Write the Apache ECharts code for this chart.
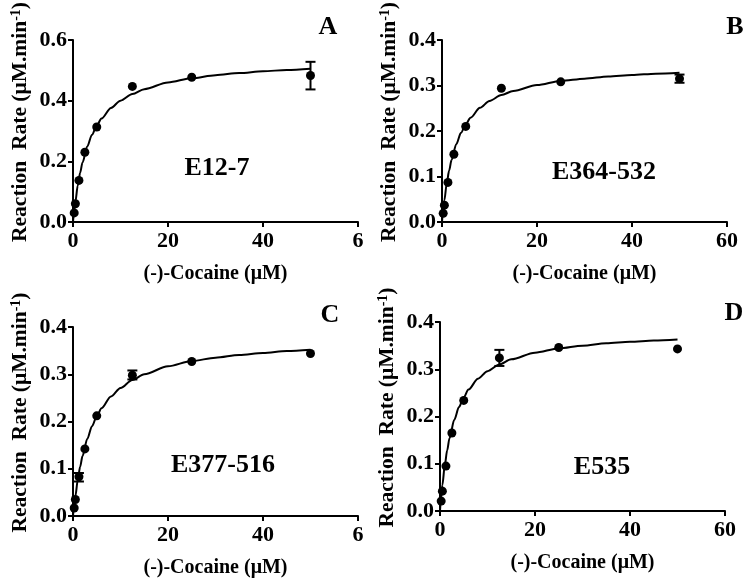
<!DOCTYPE html>
<html><head><meta charset="utf-8">
<script src="https://cdn.jsdelivr.net/npm/echarts@6/dist/echarts.min.js"></script>
<style>html,body{margin:0;padding:0;background:#fff}#c{width:754px;height:583px}</style>
</head><body><div id="c"></div>
<script>
// ---- data ----
const conc = [0.25, 0.5, 1.25, 2.5, 5, 12.5, 25, 50];
const rateA = [0.030, 0.060, 0.137, 0.230, 0.313, 0.447, 0.477, 0.483];
const rateB = [0.019, 0.037, 0.087, 0.149, 0.210, 0.294, 0.308, 0.315];
const rateC = [0.017, 0.035, 0.083, 0.142, 0.212, 0.298, 0.327, 0.344];
const rateD = [0.021, 0.042, 0.095, 0.165, 0.234, 0.324, 0.346, 0.343];
// fitted curves
const curveX = [0, 0.25, 0.5, 1, 1.5, 2, 3, 4, 5, 6, 8, 10, 12.5, 15, 20, 25, 30, 35, 40, 45, 50];
const curveA = [0, 0.036, 0.067, 0.120, 0.162, 0.196, 0.249, 0.288, 0.318, 0.341, 0.376, 0.400, 0.422, 0.438, 0.460, 0.474, 0.484, 0.491, 0.497, 0.501, 0.505];
const curveB = [0, 0.026, 0.048, 0.085, 0.113, 0.136, 0.171, 0.196, 0.215, 0.229, 0.251, 0.266, 0.279, 0.288, 0.301, 0.310, 0.315, 0.320, 0.323, 0.326, 0.328];
const curveC = [0, 0.022, 0.042, 0.076, 0.104, 0.127, 0.163, 0.190, 0.211, 0.228, 0.253, 0.271, 0.288, 0.300, 0.317, 0.328, 0.335, 0.341, 0.345, 0.349, 0.352];
const curveD = [0, 0.030, 0.055, 0.096, 0.128, 0.154, 0.193, 0.220, 0.241, 0.257, 0.280, 0.296, 0.310, 0.321, 0.335, 0.344, 0.350, 0.355, 0.358, 0.361, 0.363];
// error bars [x, low, high]
const errA = [[50, 0.437, 0.528]];
const errB = [[50, 0.306, 0.324]];
const errC = [[1.25, 0.073, 0.091], [12.5, 0.289, 0.308]];
const errD = [[12.5, 0.307, 0.341]];
const panelLetters = ['A', 'B', 'C', 'D'];
const enzymes = ['E12-7', 'E364-532', 'E377-516', 'E535'];
const xTicksAC = ['0', '20', '40', '6'];
const xTicksBD = ['0', '20', '40', '60'];
const yMaxes = [0.6, 0.4, 0.4, 0.4];
const yIntervals = [0.2, 0.1, 0.1, 0.1];
const xTitle = '(-)-Cocaine (μM)';

// ---- layout ----
const FONT = 'Liberation Serif';
const grids = [
  {left: 73, top: 32, width: 285, height: 190},
  {left: 442, top: 32, width: 285, height: 190},
  {left: 73, top: 327, width: 285, height: 189},
  {left: 440, top: 322, width: 285, height: 189}
];
const letterPos = [[328, 27], [735, 27], [330, 315], [734, 313]];
const namePos = [[217, 168], [604, 172], [223, 465], [602, 467]];
const rates = [rateA, rateB, rateC, rateD];
const curves = [curveA, curveB, curveC, curveD];
const errs = [errA, errB, errC, errD];
const xTicks = [xTicksAC, xTicksBD, xTicksAC, xTicksBD];

const axisLine = {lineStyle: {color: '#000', width: 2}};
const axisTick = {show: true, length: 5, lineStyle: {color: '#000', width: 2}};
const xAxis = [], yAxis = [], series = [], graphic = [];
for (let i = 0; i < 4; i++) {
  const ticks = xTicks[i];
  xAxis.push({
    type: 'value', gridIndex: i, min: 0, max: 60, interval: 20,
    axisLine: axisLine, axisTick: axisTick, splitLine: {show: false},
    axisLabel: {color: '#000', fontFamily: FONT, fontWeight: 'bold', fontSize: 22, margin: 8,
      formatter: (v) => ticks[Math.round(v / 20)]},
    name: xTitle, nameLocation: 'middle', nameGap: 42,
    nameTextStyle: {color: '#000', fontFamily: FONT, fontWeight: 'bold', fontSize: 20}
  });
  yAxis.push({
    type: 'value', gridIndex: i, min: 0, max: yMaxes[i], interval: yIntervals[i],
    axisLine: axisLine, axisTick: axisTick, splitLine: {show: false},
    axisLabel: {color: '#000', fontFamily: FONT, fontWeight: 'bold', fontSize: 22, margin: 6,
      formatter: (v) => v.toFixed(1)},
    name: '{a|Reaction  Rate (μM.min}{s|-1}{a|)}', nameLocation: 'middle', nameGap: 42,
    nameTextStyle: {color: '#000', padding: [0, 0, 0, 18], rich: {
      a: {fontFamily: FONT, fontWeight: 'bold', fontSize: 21.5, color: '#000'},
      s: {fontFamily: FONT, fontWeight: 'bold', fontSize: 14, color: '#000', verticalAlign: 'top', padding: [0, 0, 8, 0]}
    }}
  });
  series.push({
    type: 'line', xAxisIndex: i, yAxisIndex: i, showSymbol: false, smooth: 0.3, smoothMonotone: 'x',
    lineStyle: {color: '#000', width: 2}, data: curveX.map((x, j) => [x, curves[i][j]]), silent: true, z: 2
  });
  series.push({
    type: 'scatter', xAxisIndex: i, yAxisIndex: i, symbol: 'circle', symbolSize: 9,
    itemStyle: {color: '#000', opacity: 1}, data: conc.map((x, j) => [x, rates[i][j]]), z: 3
  });
  series.push({
    type: 'custom', xAxisIndex: i, yAxisIndex: i, data: errs[i], z: 4,
    renderItem: function (params, api) {
      const x = api.value(0), lo = api.value(1), hi = api.value(2);
      const p1 = api.coord([x, lo]), p2 = api.coord([x, hi]);
      const w = 5;
      const st = {stroke: '#000', lineWidth: 2};
      return {type: 'group', children: [
        {type: 'line', shape: {x1: p1[0], y1: p1[1], x2: p2[0], y2: p2[1]}, style: st},
        {type: 'line', shape: {x1: p1[0] - w, y1: p1[1], x2: p1[0] + w, y2: p1[1]}, style: st},
        {type: 'line', shape: {x1: p2[0] - w, y1: p2[1], x2: p2[0] + w, y2: p2[1]}, style: st}
      ]};
    }
  });
  graphic.push({type: 'text', x: letterPos[i][0], y: letterPos[i][1],
    style: {text: panelLetters[i], font: 'bold 26px "Liberation Serif"', fill: '#000', textAlign: 'center', textVerticalAlign: 'middle'}});
  graphic.push({type: 'text', x: namePos[i][0], y: namePos[i][1],
    style: {text: enzymes[i], font: 'bold 26px "Liberation Serif"', fill: '#000', textAlign: 'center', textVerticalAlign: 'middle'}});
}

const chart = echarts.init(document.getElementById('c'), null, {renderer: 'canvas'});
chart.setOption({
  animation: false, backgroundColor: '#fff',
  grid: grids, xAxis: xAxis, yAxis: yAxis, series: series, graphic: graphic
});
</script></body></html>
